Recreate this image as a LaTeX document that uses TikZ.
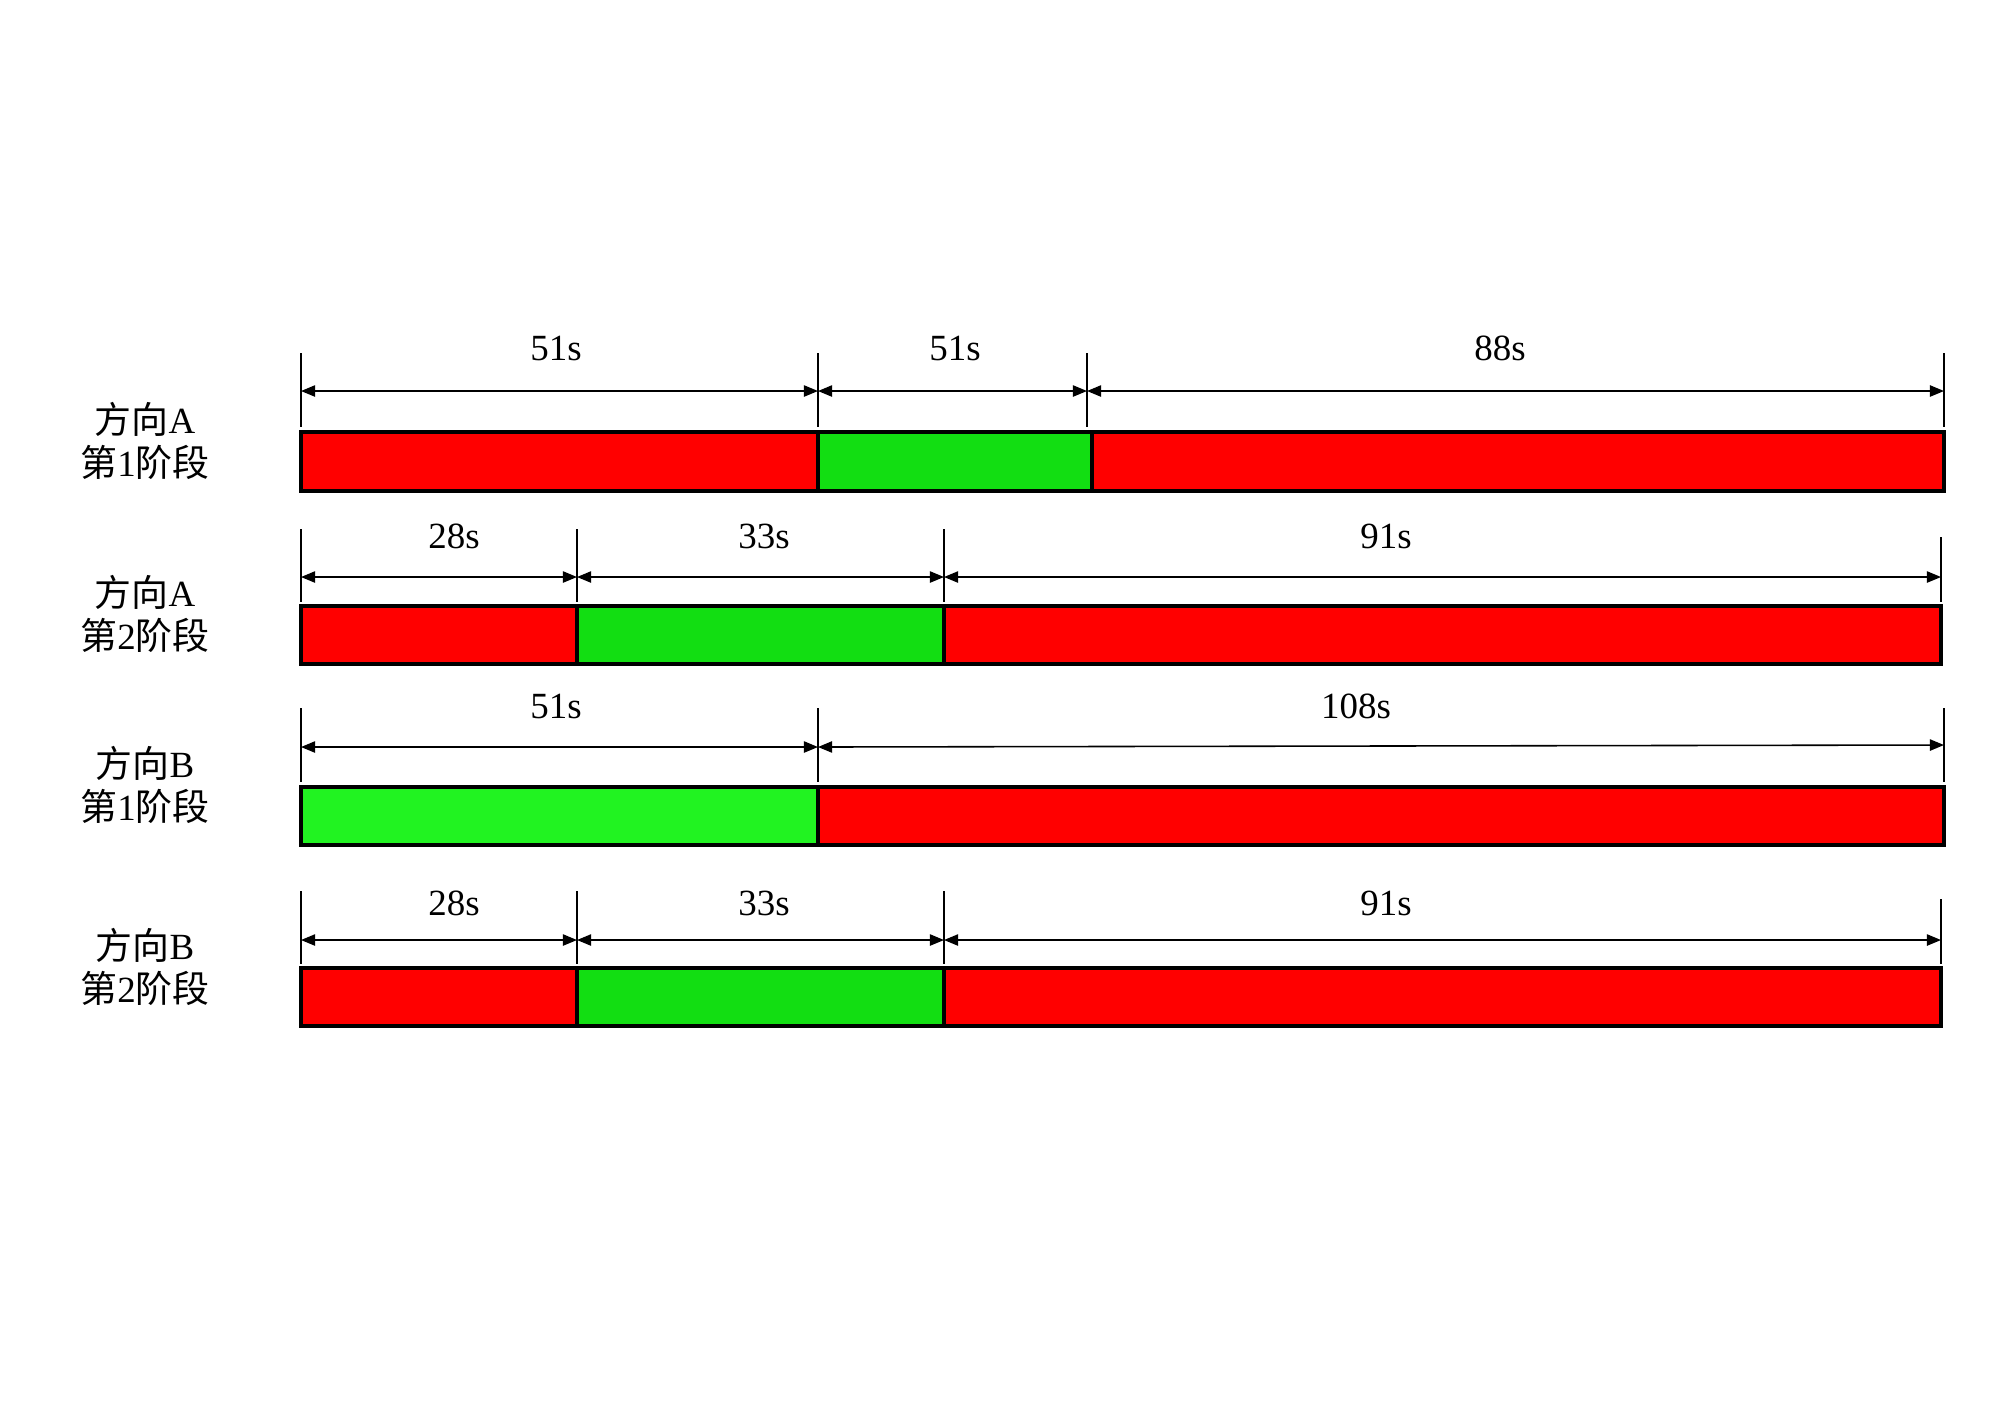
\documentclass[tikz,border=0pt]{standalone}
\usepackage{fontspec}
\setmainfont{Liberation Serif}
\newfontfamily\cjk{Noto Sans CJK SC}
\usetikzlibrary{arrows.meta}
\definecolor{redbar}{RGB}{255,0,0}
\definecolor{greenA}{RGB}{18,222,18}
\definecolor{greenB}{RGB}{33,243,33}
\begin{document}
\begin{tikzpicture}[x=0.01cm,y=-0.01cm,
  seg/.style={draw=black,line width=0.9pt},
  tick/.style={draw=black,line width=0.8pt},
  dim/.style={draw=black,line width=0.45pt,{Triangle[length=4pt,width=3.2pt]}-{Triangle[length=4pt,width=3.2pt]}},
  val/.style={font=\fontsize{10.5}{12}\selectfont,inner sep=0pt},
  rowlab/.style={font=\fontsize{10.5}{12}\selectfont,align=center,inner sep=0pt}]
\useasboundingbox[fill=white] (0,0) rectangle (2000,1414);

% ---------- Row 1 : 方向A 第1阶段 ----------
\node[rowlab] (lab1) at (145,441) {\cjk 方向{\rmfamily A}\\\cjk 第{\rmfamily 1}阶段};
\draw[seg,fill=redbar] (301,432) rectangle (818,491);
\draw[seg,fill=greenA] (818,432) rectangle (1092,491);
\draw[seg,fill=redbar] (1092,432) rectangle (1944,491);
\coordinate (r1t0) at (301,353); \coordinate (r1b0) at (301,427);
\coordinate (r1t1) at (818,353); \coordinate (r1b1) at (818,427);
\coordinate (r1t2) at (1087,353); \coordinate (r1b2) at (1087,427);
\coordinate (r1t3) at (1944,353); \coordinate (r1b3) at (1944,427);
\foreach \i in {0,...,3} \draw[tick] (r1t\i) -- (r1b\i);
\coordinate (r1a0) at (301,391); \coordinate (r1a1) at (818,391);
\coordinate (r1a2) at (1087,391); \coordinate (r1a3) at (1944,391);
\draw[dim] (r1a0) -- (r1a1);
\draw[dim] (r1a1) -- (r1a2);
\draw[dim] (r1a2) -- (r1a3);
\node[val] (v11) at (556,348) {51s};
\node[val] (v12) at (955,348) {51s};
\node[val] (v13) at (1500,348) {88s};

% ---------- Row 2 : 方向A 第2阶段 ----------
\node[rowlab] (lab2) at (145,614) {\cjk 方向{\rmfamily A}\\\cjk 第{\rmfamily 2}阶段};
\draw[seg,fill=redbar] (301,606) rectangle (577,664);
\draw[seg,fill=greenA] (577,606) rectangle (944,664);
\draw[seg,fill=redbar] (944,606) rectangle (1941,664);
\coordinate (r2t0) at (301,529); \coordinate (r2b0) at (301,602);
\coordinate (r2t1) at (577,529); \coordinate (r2b1) at (577,602);
\coordinate (r2t2) at (944,529); \coordinate (r2b2) at (944,602);
\coordinate (r2t3) at (1941,537); \coordinate (r2b3) at (1941,602);
\foreach \i in {0,...,3} \draw[tick] (r2t\i) -- (r2b\i);
\coordinate (r2a0) at (301,577); \coordinate (r2a1) at (577,577);
\coordinate (r2a2) at (944,577); \coordinate (r2a3) at (1941,577);
\draw[dim] (r2a0) -- (r2a1);
\draw[dim] (r2a1) -- (r2a2);
\draw[dim] (r2a2) -- (r2a3);
\node[val] (v21) at (454,536) {28s};
\node[val] (v22) at (764,536) {33s};
\node[val] (v23) at (1386,536) {91s};

% ---------- Row 3 : 方向B 第1阶段 ----------
\node[rowlab] (lab3) at (145,785) {\cjk 方向{\rmfamily B}\\\cjk 第{\rmfamily 1}阶段};
\draw[seg,fill=greenB] (301,787) rectangle (818,845);
\draw[seg,fill=redbar] (818,787) rectangle (1944,845);
\coordinate (r3t0) at (301,708); \coordinate (r3b0) at (301,782);
\coordinate (r3t1) at (818,708); \coordinate (r3b1) at (818,782);
\coordinate (r3t2) at (1944,708); \coordinate (r3b2) at (1944,782);
\foreach \i in {0,...,2} \draw[tick] (r3t\i) -- (r3b\i);
\coordinate (r3a0) at (301,747); \coordinate (r3a1) at (818,747);
\coordinate (r3a2) at (1944,745);
\draw[dim] (r3a0) -- (r3a1);
\draw[dim] (r3a1) -- (r3a2);
\node[val] (v31) at (556,706) {51s};
\node[val] (v32) at (1356,706) {108s};

% ---------- Row 4 : 方向B 第2阶段 ----------
\node[rowlab] (lab4) at (145,967) {\cjk 方向{\rmfamily B}\\\cjk 第{\rmfamily 2}阶段};
\draw[seg,fill=redbar] (301,968) rectangle (577,1026);
\draw[seg,fill=greenA] (577,968) rectangle (944,1026);
\draw[seg,fill=redbar] (944,968) rectangle (1941,1026);
\coordinate (r4t0) at (301,891); \coordinate (r4b0) at (301,964);
\coordinate (r4t1) at (577,891); \coordinate (r4b1) at (577,964);
\coordinate (r4t2) at (944,891); \coordinate (r4b2) at (944,964);
\coordinate (r4t3) at (1941,899); \coordinate (r4b3) at (1941,964);
\foreach \i in {0,...,3} \draw[tick] (r4t\i) -- (r4b\i);
\coordinate (r4a0) at (301,940); \coordinate (r4a1) at (577,940);
\coordinate (r4a2) at (944,940); \coordinate (r4a3) at (1941,940);
\draw[dim] (r4a0) -- (r4a1);
\draw[dim] (r4a1) -- (r4a2);
\draw[dim] (r4a2) -- (r4a3);
\node[val] (v41) at (454,903) {28s};
\node[val] (v42) at (764,903) {33s};
\node[val] (v43) at (1386,903) {91s};
\end{tikzpicture}
\end{document}
